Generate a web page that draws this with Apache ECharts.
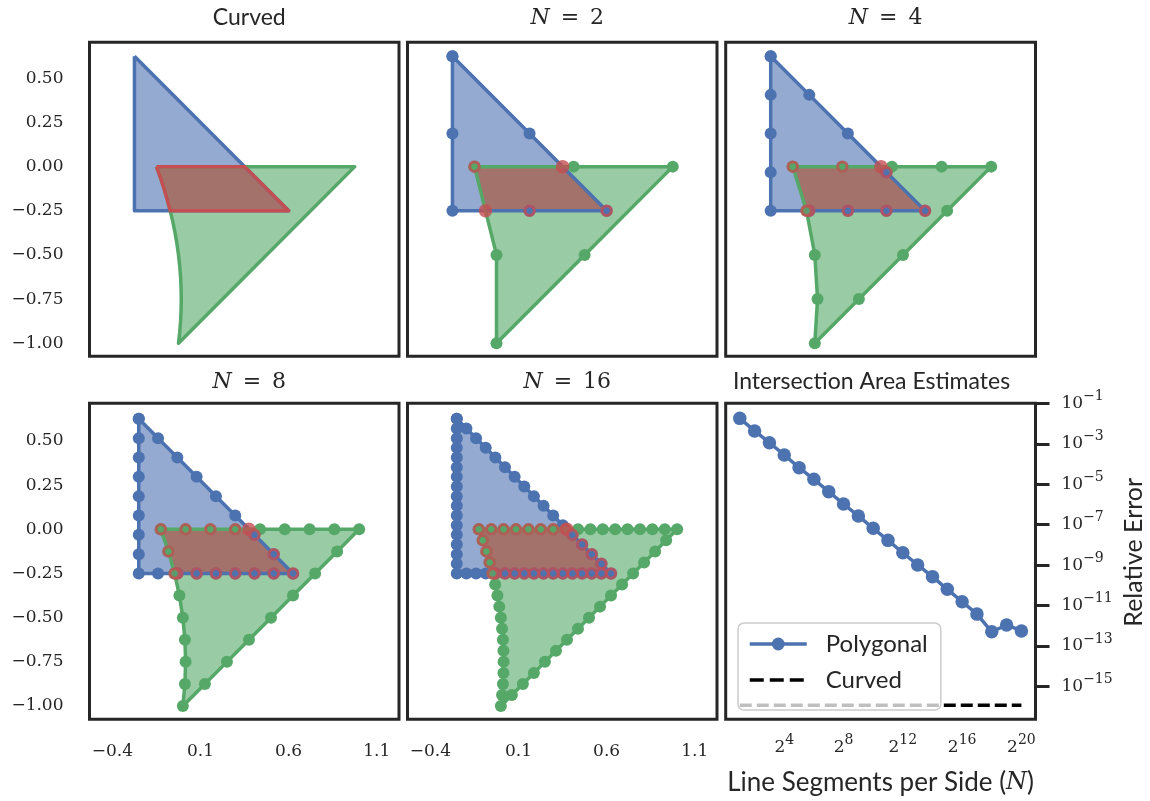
<!DOCTYPE html>
<html>
<head>
<meta charset="utf-8">
<script src="https://cdn.jsdelivr.net/npm/echarts@6/dist/echarts.min.js"></script>
<style>
html, body { margin: 0; padding: 0; background: #fff; }
#main { width: 1150px; height: 801px; }
</style>
</head>
<body>
<div id="main"></div>
<script>
// ---- shapes (x, y); red nodes carry where they come from: g = green node, b = blue node, x = crossing
var curvedBlue = [[-0.25, 0.625], [-0.25, -0.25], [0.625, -0.25]];
var curvedGreen = [[-0.125, 0], [1.0, 0], [0, -1], [0.0068, -0.9375], [0.0117, -0.875], [0.0146, -0.8125],
    [0.0156, -0.75], [0.0146, -0.6875], [0.0117, -0.625], [0.0068, -0.5625], [0, -0.5], [-0.0088, -0.4375],
    [-0.0195, -0.375], [-0.0322, -0.3125], [-0.0469, -0.25], [-0.0635, -0.1875], [-0.082, -0.125], [-0.1025, -0.0625]];
var curvedRed = [[-0.125, 0], [0.375, 0], [0.625, -0.25], [-0.0469, -0.25], [-0.0635, -0.1875], [-0.082, -0.125], [-0.1025, -0.0625]];

var blueN2 = [[-0.25, 0.625], [-0.25, 0.1875], [-0.25, -0.25], [0.1875, -0.25], [0.625, -0.25], [0.1875, 0.1875]];
var greenN2 = [[-0.125, 0], [0.4375, 0], [1.0, 0], [0.5, -0.5], [0, -1], [0, -0.5]];
var redN2 = [[-0.125, 0, 'g'], [0.375, 0, 'x'], [0.625, -0.25, 'b'], [0.1875, -0.25, 'b'], [-0.0625, -0.25, 'x']];

var blueN4 = [[-0.25, 0.625], [-0.25, 0.4063], [-0.25, 0.1875], [-0.25, -0.0313], [-0.25, -0.25],
    [-0.0313, -0.25], [0.1875, -0.25], [0.4063, -0.25], [0.625, -0.25],
    [0.4063, -0.0313], [0.1875, 0.1875], [-0.0313, 0.4063]];
var greenN4 = [[-0.125, 0], [0.1563, 0], [0.4375, 0], [0.7188, 0], [1.0, 0],
    [0.75, -0.25], [0.5, -0.5], [0.25, -0.75], [0, -1],
    [0.0156, -0.75], [0, -0.5], [-0.0469, -0.25]];
var redN4 = [[-0.125, 0, 'g'], [0.1563, 0, 'g'], [0.375, 0, 'x'], [0.4063, -0.0313, 'b'], [0.625, -0.25, 'b'],
    [0.4063, -0.25, 'b'], [0.1875, -0.25, 'b'], [-0.0313, -0.25, 'b'], [-0.0469, -0.25, 'g']];

var blueN8 = [[-0.25, 0.625], [-0.25, 0.5156], [-0.25, 0.4063], [-0.25, 0.2969], [-0.25, 0.1875], [-0.25, 0.0781],
    [-0.25, -0.0313], [-0.25, -0.1406], [-0.25, -0.25],
    [-0.1406, -0.25], [-0.0313, -0.25], [0.0781, -0.25], [0.1875, -0.25], [0.2969, -0.25], [0.4063, -0.25],
    [0.5156, -0.25], [0.625, -0.25],
    [0.5156, -0.1406], [0.4063, -0.0313], [0.2969, 0.0781], [0.1875, 0.1875], [0.0781, 0.2969],
    [-0.0313, 0.4063], [-0.1406, 0.5156]];
var greenN8 = [[-0.125, 0], [0.0156, 0], [0.1563, 0], [0.2969, 0], [0.4375, 0], [0.5781, 0], [0.7188, 0], [0.8594, 0], [1.0, 0],
    [0.875, -0.125], [0.75, -0.25], [0.625, -0.375], [0.5, -0.5], [0.375, -0.625], [0.25, -0.75], [0.125, -0.875], [0, -1],
    [0.0117, -0.875], [0.0156, -0.75], [0.0117, -0.625], [0, -0.5], [-0.0195, -0.375], [-0.0469, -0.25], [-0.082, -0.125]];
var redN8 = [[-0.125, 0, 'g'], [0.0156, 0, 'g'], [0.1563, 0, 'g'], [0.2969, 0, 'g'], [0.375, 0, 'x'],
    [0.4063, -0.0313, 'b'], [0.5156, -0.1406, 'b'], [0.625, -0.25, 'b'],
    [0.5156, -0.25, 'b'], [0.4063, -0.25, 'b'], [0.2969, -0.25, 'b'], [0.1875, -0.25, 'b'], [0.0781, -0.25, 'b'],
    [-0.0313, -0.25, 'b'], [-0.0469, -0.25, 'g'], [-0.082, -0.125, 'g']];

var blueN16 = [[-0.25, 0.625], [-0.25, 0.5703], [-0.25, 0.5156], [-0.25, 0.4609], [-0.25, 0.4063], [-0.25, 0.3516],
    [-0.25, 0.2969], [-0.25, 0.2422], [-0.25, 0.1875], [-0.25, 0.1328], [-0.25, 0.0781], [-0.25, 0.0234],
    [-0.25, -0.0313], [-0.25, -0.0859], [-0.25, -0.1406], [-0.25, -0.1953], [-0.25, -0.25],
    [-0.1953, -0.25], [-0.1406, -0.25], [-0.0859, -0.25], [-0.0313, -0.25], [0.0234, -0.25], [0.0781, -0.25],
    [0.1328, -0.25], [0.1875, -0.25], [0.2422, -0.25], [0.2969, -0.25], [0.3516, -0.25], [0.4063, -0.25],
    [0.4609, -0.25], [0.5156, -0.25], [0.5703, -0.25], [0.625, -0.25],
    [0.5703, -0.1953], [0.5156, -0.1406], [0.4609, -0.0859], [0.4063, -0.0313], [0.3516, 0.0234], [0.2969, 0.0781],
    [0.2422, 0.1328], [0.1875, 0.1875], [0.1328, 0.2422], [0.0781, 0.2969], [0.0234, 0.3516], [-0.0313, 0.4063],
    [-0.0859, 0.4609], [-0.1406, 0.5156], [-0.1953, 0.5703]];
var greenN16 = [[-0.125, 0], [-0.0547, 0], [0.0156, 0], [0.0859, 0], [0.1563, 0], [0.2266, 0], [0.2969, 0], [0.3672, 0],
    [0.4375, 0], [0.5078, 0], [0.5781, 0], [0.6484, 0], [0.7188, 0], [0.7891, 0], [0.8594, 0], [0.9297, 0], [1.0, 0],
    [0.9375, -0.0625], [0.875, -0.125], [0.8125, -0.1875], [0.75, -0.25], [0.6875, -0.3125], [0.625, -0.375],
    [0.5625, -0.4375], [0.5, -0.5], [0.4375, -0.5625], [0.375, -0.625], [0.3125, -0.6875], [0.25, -0.75],
    [0.1875, -0.8125], [0.125, -0.875], [0.0625, -0.9375], [0, -1],
    [0.0068, -0.9375], [0.0117, -0.875], [0.0146, -0.8125], [0.0156, -0.75], [0.0146, -0.6875], [0.0117, -0.625],
    [0.0068, -0.5625], [0, -0.5], [-0.0088, -0.4375], [-0.0195, -0.375], [-0.0322, -0.3125], [-0.0469, -0.25],
    [-0.0635, -0.1875], [-0.082, -0.125], [-0.1025, -0.0625]];
var redN16 = [[-0.125, 0, 'g'], [-0.0547, 0, 'g'], [0.0156, 0, 'g'], [0.0859, 0, 'g'], [0.1563, 0, 'g'], [0.2266, 0, 'g'],
    [0.2969, 0, 'g'], [0.3672, 0, 'g'], [0.375, 0, 'x'],
    [0.4063, -0.0313, 'b'], [0.4609, -0.0859, 'b'], [0.5156, -0.1406, 'b'], [0.5703, -0.1953, 'b'], [0.625, -0.25, 'b'],
    [0.5703, -0.25, 'b'], [0.5156, -0.25, 'b'], [0.4609, -0.25, 'b'], [0.4063, -0.25, 'b'], [0.3516, -0.25, 'b'],
    [0.2969, -0.25, 'b'], [0.2422, -0.25, 'b'], [0.1875, -0.25, 'b'], [0.1328, -0.25, 'b'], [0.0781, -0.25, 'b'],
    [0.0234, -0.25, 'b'], [-0.0313, -0.25, 'b'], [-0.0469, -0.25, 'g'], [-0.0635, -0.1875, 'g'],
    [-0.082, -0.125, 'g'], [-0.1025, -0.0625, 'g']];

// ---- error panel
var segmentsN = [2, 4, 8, 16, 32, 64, 128, 256, 512, 1024, 2048, 4096, 8192, 16384, 32768, 65536,
    131072, 262144, 524288, 1048576];
var polygonalError = [1.8e-2, 4.3e-3, 1.13e-3, 2.78e-4, 6.6e-5, 1.75e-5, 4.3e-6, 1.05e-6, 2.7e-7, 6.6e-8,
    1.68e-8, 4.1e-9, 1.02e-9, 2.7e-10, 6.4e-11, 1.56e-11, 3.8e-12, 5.1e-13, 1.1e-12, 5.6e-13];
var curvedError = [1.2e-16, 1.2e-16, 1.2e-16, 1.2e-16, 1.2e-16, 1.2e-16, 1.2e-16, 1.2e-16, 1.2e-16, 1.2e-16,
    1.2e-16, 1.2e-16, 1.2e-16, 1.2e-16, 1.2e-16, 1.2e-16, 1.2e-16, 1.2e-16, 1.2e-16, 1.2e-16];

// ---- ticks
var shapeXTicks = [-0.4, 0.1, 0.6, 1.1];
var shapeYTicks = [0.5, 0.25, 0, -0.25, -0.5, -0.75, -1];
var pow2Ticks = [4, 8, 12, 16, 20];
var pow10Ticks = [-1, -3, -5, -7, -9, -11, -13, -15];

var BLUE = '#4C72B0', GREEN = '#55A868', RED = '#C44E52', INK = '#262626';
var BLUE_FILL = 'rgba(76,114,176,0.6)', GREEN_FILL = 'rgba(85,168,104,0.6)', RED_FILL = 'rgba(196,78,82,0.6)';
var SERIF = 'DejaVu Serif', SANS = 'Lato';
var LW = 3.5;
var DASH = [12, 5];

var myChart = echarts.init(document.getElementById('main'));

var cells = [
    [89.5, 42.3, 309.5, 314], [407.5, 42.3, 309.5, 314], [725.7, 42.3, 309.8, 314],
    [89.5, 403.3, 309.5, 316], [407.5, 403.3, 309.5, 316], [725.7, 403.3, 309.8, 316]
];
var panels = [
    {blue: curvedBlue, green: curvedGreen, red: curvedRed, nodes: false},
    {blue: blueN2, green: greenN2, red: redN2, nodes: true},
    {blue: blueN4, green: greenN4, red: redN4, nodes: true},
    {blue: blueN8, green: greenN8, red: redN8, nodes: true},
    {blue: blueN16, green: greenN16, red: redN16, nodes: true}
];

function minus(s) { return String(s).replace('-', '\u2212'); }

var grids = [], xAxes = [], yAxes = [], series = [];
cells.forEach(function (c) {
    grids.push({left: c[0], top: c[1], width: c[2], height: c[3], show: true,
        borderColor: INK, borderWidth: 3, backgroundColor: 'transparent',
        containLabel: false, outerBoundsMode: 'none'});
});

function fill(i, pts, color, z) {
    return {
        type: 'custom', xAxisIndex: i, yAxisIndex: i, z: z, silent: true,
        data: pts.map(function (p) { return [p[0], p[1]]; }),
        encode: {x: 0, y: 1},
        renderItem: function (params, api) {
            if (params.dataIndex !== 0) return null;
            return {
                type: 'polygon',
                shape: {points: pts.map(function (p) { return api.coord([p[0], p[1]]); })},
                style: {fill: color}
            };
        }
    };
}

function edge(i, pts, color, nodes, z) {
    var ring = pts.map(function (p) { return [p[0], p[1]]; });
    ring.push(ring[0]);
    return {
        type: 'line', xAxisIndex: i, yAxisIndex: i, z: z, silent: true,
        data: ring, symbol: nodes ? 'circle' : 'none', symbolSize: 12, showSymbol: nodes,
        lineStyle: {color: color, width: LW, join: 'round'},
        itemStyle: {color: color}
    };
}

function redNodes(i, pts) {
    return {
        type: 'scatter', xAxisIndex: i, yAxisIndex: i, z: 6, silent: true, symbol: 'circle',
        data: pts.map(function (p) {
            if (p[2] === 'x') return {value: [p[0], p[1]], symbolSize: 13.5, itemStyle: {color: RED}};
            return {value: [p[0], p[1]], symbolSize: 9.5,
                itemStyle: {color: p[2] === 'g' ? GREEN : BLUE, borderColor: RED, borderWidth: 3}};
        })
    };
}

panels.forEach(function (pn, i) {
    var top = i < 3;
    xAxes.push({
        type: 'value', gridIndex: i,
        min: top ? -0.505 : -0.5295, max: top ? 1.251 : 1.226,
        axisLine: {show: false}, axisTick: {show: false}, splitLine: {show: false},
        axisLabel: {show: i >= 3, customValues: shapeXTicks, margin: 24,
            fontFamily: SERIF, fontSize: 17, color: INK,
            formatter: function (v) { return minus(v.toFixed(1)); }}
    });
    yAxes.push({
        type: 'value', gridIndex: i,
        min: top ? -1.074 : -1.075, max: top ? 0.704 : 0.713,
        axisLine: {show: false}, axisTick: {show: false}, splitLine: {show: false},
        axisLabel: {show: i === 0 || i === 3, customValues: shapeYTicks, margin: 26,
            fontFamily: SERIF, fontSize: 17, color: INK,
            formatter: function (v) { return minus(v.toFixed(2)); }}
    });
    series.push(fill(i, pn.blue, BLUE_FILL, 1));
    series.push(fill(i, pn.green, GREEN_FILL, 1));
    series.push(fill(i, pn.red, RED_FILL, 1));
    series.push(edge(i, pn.blue, BLUE, pn.nodes, 3));
    series.push(edge(i, pn.green, GREEN, pn.nodes, 4));
    if (pn.nodes) series.push(redNodes(i, pn.red));
    else series.push(edge(i, pn.red, RED, false, 5));
});

// error panel
var supRich = {
    b: {fontFamily: SERIF, fontSize: 17, color: INK, lineHeight: 20},
    e: {fontFamily: SERIF, fontSize: 14, color: INK, lineHeight: 16, padding: [0, 0, 14, 0]}
};
xAxes.push({
    type: 'value', gridIndex: 5, min: 0.05, max: 20.95,
    axisLine: {show: false}, axisTick: {show: false}, splitLine: {show: false},
    axisLabel: {customValues: pow2Ticks, margin: 18, rich: supRich,
        formatter: function (v) { return '{b|2}{e|' + v + '}'; }},
    name: '{s|Line Segments per Side (}{i|N}{s|)}',
    nameLocation: 'middle', nameGap: 50,
    nameTextStyle: {rich: {
        s: {fontFamily: SANS, fontSize: 26, color: INK},
        i: {fontFamily: SERIF, fontStyle: 'italic', fontSize: 24, color: INK}
    }}
});
yAxes.push({
    type: 'value', gridIndex: 5, position: 'right', min: -16.62, max: -1,
    axisLine: {show: false}, splitLine: {show: false},
    axisTick: {show: true, customValues: pow10Ticks, length: 14, lineStyle: {color: INK, width: 3}},
    axisLabel: {customValues: pow10Ticks, margin: 26, rich: supRich,
        formatter: function (v) { return '{b|10}{e|\u2212' + Math.round(-v) + '}'; }},
    name: 'Relative Error', nameLocation: 'middle', nameGap: 86,
    nameTextStyle: {fontFamily: SANS, fontSize: 25, color: INK, padding: [0, 0, 0, 18]}
});
series.push({
    name: 'Polygonal', type: 'line', xAxisIndex: 5, yAxisIndex: 5, z: 3,
    data: segmentsN.map(function (n, k) { return [Math.log2(n), Math.log10(polygonalError[k])]; }),
    symbol: 'circle', symbolSize: 13.5, showSymbol: true,
    lineStyle: {color: BLUE, width: LW}, itemStyle: {color: BLUE}
});
series.push({
    name: 'Curved', type: 'line', xAxisIndex: 5, yAxisIndex: 5, z: 2,
    data: segmentsN.map(function (n, k) { return [Math.log2(n), Math.log10(curvedError[k])]; }),
    symbol: 'none',
    lineStyle: {color: '#000000', width: LW, type: DASH}, itemStyle: {color: '#000000'}
});

var titleFont = {fontFamily: SANS, fontSize: 23, fontWeight: 'normal', color: INK};
var nRich = {
    i: {fontFamily: SERIF, fontStyle: 'italic', fontWeight: 'normal', fontSize: 22, color: INK, lineHeight: 26},
    r: {fontFamily: SERIF, fontWeight: 'normal', fontSize: 22, color: INK, lineHeight: 26}
};
function nTitle(n, c, top) {
    return {text: '{i|N}{r|\u2002=\u2002' + n + '}', left: c[0] + c[2] / 2, top: top, textAlign: 'center',
        textStyle: {fontWeight: 'normal', rich: nRich}};
}

myChart.setOption({
    animation: false,
    backgroundColor: '#ffffff',
    title: [
        {text: 'Curved', left: cells[0][0] + cells[0][2] / 2, top: 1, textAlign: 'center', textStyle: titleFont},
        nTitle(2, cells[1], 0),
        nTitle(4, cells[2], 0),
        nTitle(8, cells[3], 364),
        nTitle(16, cells[4], 364),
        {text: 'Intersection Area Estimates', left: 866.5, top: 365, textAlign: 'center', textStyle: titleFont}
    ],
    legend: {
        data: [
            {name: 'Polygonal', lineStyle: {width: LW, color: BLUE}},
            {name: 'Curved', itemStyle: {opacity: 0}, lineStyle: {width: LW, color: '#000000', type: [14, 6]}}
        ],
        orient: 'vertical', left: 738, top: 623,
        itemWidth: 57, itemHeight: 16, itemGap: 10,
        padding: [8, 13, 17, 10],
        backgroundColor: 'rgba(255,255,255,0.75)', borderColor: '#cccccc', borderWidth: 1.5, borderRadius: 6,
        textStyle: {fontFamily: SANS, fontSize: 24, color: INK, lineHeight: 26, padding: [0, 0, 0, 14]}
    },
    grid: grids,
    xAxis: xAxes,
    yAxis: yAxes,
    series: series
});
</script>
</body>
</html>
